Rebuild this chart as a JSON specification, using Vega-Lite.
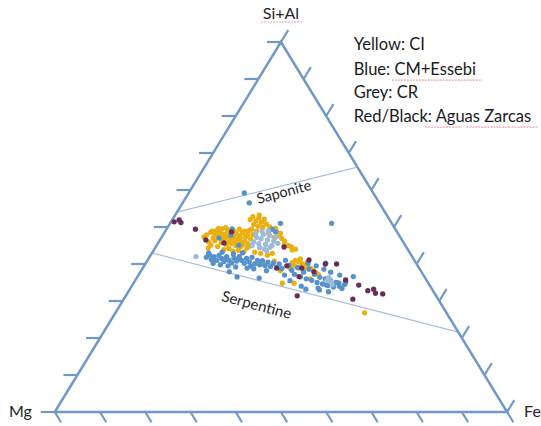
{
  "$schema": "https://vega.github.io/schema/vega-lite/v6.json",
  "width": 541,
  "height": 426,
  "autosize": {"type": "fit", "contains": "padding"},
  "padding": 0,
  "background": "white",
  "view": {"stroke": null},
  "config": {"font": "Lato"},
  "datasets": {
    "frame": [
      {"x": 0, "y": 0, "o": 1},
      {"x": 100, "y": 0, "o": 2},
      {"x": 50, "y": 100, "o": 3},
      {"x": 0, "y": 0, "o": 4}
    ],
    "ticks": [
      {"x": 0, "y": 0, "x2": -3.1, "y2": 0},
      {"x": 5, "y": 10, "x2": 1.9, "y2": 10},
      {"x": 10, "y": 20, "x2": 6.9, "y2": 20},
      {"x": 15, "y": 30, "x2": 11.9, "y2": 30},
      {"x": 20, "y": 40, "x2": 16.9, "y2": 40},
      {"x": 25, "y": 50, "x2": 21.9, "y2": 50},
      {"x": 30, "y": 60, "x2": 26.9, "y2": 60},
      {"x": 35, "y": 70, "x2": 31.9, "y2": 70},
      {"x": 40, "y": 80, "x2": 36.9, "y2": 80},
      {"x": 45, "y": 90, "x2": 41.9, "y2": 90},
      {"x": 50, "y": 100, "x2": 46.9, "y2": 100},
      {"x": 0, "y": 0, "x2": 1.38, "y2": -2.76},
      {"x": 10, "y": 0, "x2": 11.38, "y2": -2.76},
      {"x": 20, "y": 0, "x2": 21.38, "y2": -2.76},
      {"x": 30, "y": 0, "x2": 31.38, "y2": -2.76},
      {"x": 40, "y": 0, "x2": 41.38, "y2": -2.76},
      {"x": 50, "y": 0, "x2": 51.38, "y2": -2.76},
      {"x": 60, "y": 0, "x2": 61.38, "y2": -2.76},
      {"x": 70, "y": 0, "x2": 71.38, "y2": -2.76},
      {"x": 80, "y": 0, "x2": 81.38, "y2": -2.76},
      {"x": 90, "y": 0, "x2": 91.38, "y2": -2.76},
      {"x": 100, "y": 0, "x2": 101.38, "y2": -2.76},
      {"x": 100, "y": 0, "x2": 101.61, "y2": 3.22},
      {"x": 95, "y": 10, "x2": 96.61, "y2": 13.22},
      {"x": 90, "y": 20, "x2": 91.61, "y2": 23.22},
      {"x": 85, "y": 30, "x2": 86.61, "y2": 33.22},
      {"x": 80, "y": 40, "x2": 81.61, "y2": 43.22},
      {"x": 75, "y": 50, "x2": 76.61, "y2": 53.22},
      {"x": 70, "y": 60, "x2": 71.61, "y2": 63.22},
      {"x": 65, "y": 70, "x2": 66.61, "y2": 73.22},
      {"x": 60, "y": 80, "x2": 61.61, "y2": 83.22},
      {"x": 55, "y": 90, "x2": 56.61, "y2": 93.22},
      {"x": 50, "y": 100, "x2": 51.61, "y2": 103.22}
    ],
    "minerals": [
      {"name": "Saponite", "x": 27.0, "y": 54.0, "x2": 66.9, "y2": 66.2},
      {"name": "Serpentine", "x": 21.5, "y": 43.0, "x2": 89.2, "y2": 21.6}
    ],
    "squiggles": [
      {"word": "Si+Al", "x": 45.6, "y": 105.4, "x2": 54.6},
      {"word": "CM+Essebi", "x": 74.5, "y": 89.7, "x2": 94.5},
      {"word": "Aguas", "x": 81.9, "y": 77.0, "x2": 89.9},
      {"word": "Zarcas", "x": 91.0, "y": 77.0, "x2": 106.8}
    ],
    "points": [
      {"x": 33.0, "y": 47.3, "g": "CI"}, {"x": 33.6, "y": 47.9, "g": "CI"}, {"x": 34.5, "y": 48.6, "g": "CI"}, {"x": 35.3, "y": 48.2, "g": "CI"},
      {"x": 35.8, "y": 49.1, "g": "CI"}, {"x": 36.5, "y": 48.7, "g": "CI"}, {"x": 37.0, "y": 49.5, "g": "CI"}, {"x": 37.6, "y": 48.0, "g": "CI"},
      {"x": 38.2, "y": 49.2, "g": "CI"}, {"x": 38.8, "y": 48.5, "g": "CI"}, {"x": 39.5, "y": 49.0, "g": "CI"}, {"x": 40.1, "y": 48.2, "g": "CI"},
      {"x": 40.8, "y": 47.6, "g": "CI"}, {"x": 41.5, "y": 48.4, "g": "CI"}, {"x": 42.2, "y": 47.3, "g": "CI"}, {"x": 36.2, "y": 47.5, "g": "CI"},
      {"x": 37.1, "y": 46.8, "g": "CI"}, {"x": 38.0, "y": 47.2, "g": "CI"}, {"x": 38.9, "y": 46.5, "g": "CI"}, {"x": 39.6, "y": 47.4, "g": "CI"},
      {"x": 40.4, "y": 46.6, "g": "CI"}, {"x": 41.2, "y": 45.9, "g": "CI"}, {"x": 42.0, "y": 46.2, "g": "CI"}, {"x": 42.7, "y": 45.5, "g": "CI"},
      {"x": 36.8, "y": 45.8, "g": "CI"}, {"x": 37.9, "y": 45.3, "g": "CI"}, {"x": 39.0, "y": 45.6, "g": "CI"}, {"x": 40.0, "y": 45.0, "g": "CI"},
      {"x": 41.0, "y": 44.6, "g": "CI"}, {"x": 42.5, "y": 44.3, "g": "CI"}, {"x": 35.4, "y": 46.3, "g": "CI"}, {"x": 34.5, "y": 45.1, "g": "CI"},
      {"x": 38.5, "y": 44.2, "g": "CI"}, {"x": 40.6, "y": 43.7, "g": "CI"}, {"x": 43.3, "y": 46.8, "g": "CI"}, {"x": 43.8, "y": 48.0, "g": "CI"},
      {"x": 34.0, "y": 46.0, "g": "CI"}, {"x": 36.0, "y": 44.7, "g": "CI"}, {"x": 37.4, "y": 43.9, "g": "CI"}, {"x": 39.4, "y": 43.5, "g": "CI"},
      {"x": 41.8, "y": 43.3, "g": "CI"}, {"x": 42.9, "y": 49.0, "g": "CI"}, {"x": 33.9, "y": 44.3, "g": "CI"},
      {"x": 34.8, "y": 48.9, "g": "CI"}, {"x": 35.9, "y": 47.9, "g": "CI"}, {"x": 36.9, "y": 48.1, "g": "CI"}, {"x": 38.4, "y": 48.6, "g": "CI"},
      {"x": 39.8, "y": 48.6, "g": "CI"}, {"x": 41.0, "y": 47.1, "g": "CI"}, {"x": 41.9, "y": 48.9, "g": "CI"}, {"x": 37.5, "y": 46.1, "g": "CI"},
      {"x": 38.6, "y": 46.0, "g": "CI"}, {"x": 39.9, "y": 46.1, "g": "CI"}, {"x": 41.6, "y": 45.2, "g": "CI"}, {"x": 43.0, "y": 44.8, "g": "CI"},
      {"x": 35.0, "y": 47.0, "g": "CI"}, {"x": 36.2, "y": 49.6, "g": "CI"}, {"x": 37.8, "y": 49.8, "g": "CI"}, {"x": 40.8, "y": 49.4, "g": "CI"},
      {"x": 42.6, "y": 47.8, "g": "CI"},
      {"x": 43.2, "y": 52.0, "g": "CI"}, {"x": 43.8, "y": 52.8, "g": "CI"}, {"x": 44.5, "y": 51.6, "g": "CI"}, {"x": 45.1, "y": 52.4, "g": "CI"},
      {"x": 45.7, "y": 51.3, "g": "CI"}, {"x": 46.3, "y": 52.1, "g": "CI"}, {"x": 44.0, "y": 50.7, "g": "CI"}, {"x": 45.0, "y": 50.2, "g": "CI"},
      {"x": 46.0, "y": 49.9, "g": "CI"}, {"x": 46.8, "y": 50.8, "g": "CI"}, {"x": 47.5, "y": 50.0, "g": "CI"}, {"x": 48.2, "y": 49.3, "g": "CI"},
      {"x": 49.0, "y": 48.8, "g": "CI"}, {"x": 49.6, "y": 47.7, "g": "CI"}, {"x": 50.2, "y": 46.9, "g": "CI"}, {"x": 50.8, "y": 46.2, "g": "CI"},
      {"x": 48.5, "y": 47.2, "g": "CI"}, {"x": 47.3, "y": 48.2, "g": "CI"}, {"x": 43.5, "y": 49.4, "g": "CI"}, {"x": 44.6, "y": 48.9, "g": "CI"},
      {"x": 48.8, "y": 49.6, "g": "CI"}, {"x": 49.9, "y": 48.3, "g": "CI"}, {"x": 50.7, "y": 45.0, "g": "CI"}, {"x": 53.2, "y": 44.0, "g": "CI"},
      {"x": 48.1, "y": 42.9, "g": "CI"}, {"x": 47.0, "y": 42.4, "g": "CI"}, {"x": 51.6, "y": 45.0, "g": "CI"}, {"x": 52.3, "y": 44.6, "g": "CI"},
      {"x": 45.2, "y": 53.2, "g": "CI"}, {"x": 45.5, "y": 42.9, "g": "CI"},
      {"x": 52.5, "y": 40.4, "g": "CI"}, {"x": 53.2, "y": 41.0, "g": "CI"}, {"x": 53.9, "y": 40.6, "g": "CI"}, {"x": 54.6, "y": 40.1, "g": "CI"},
      {"x": 55.3, "y": 39.7, "g": "CI"}, {"x": 56.0, "y": 39.3, "g": "CI"}, {"x": 56.6, "y": 38.8, "g": "CI"}, {"x": 57.2, "y": 38.2, "g": "CI"},
      {"x": 57.8, "y": 37.6, "g": "CI"}, {"x": 53.0, "y": 39.5, "g": "CI"}, {"x": 54.0, "y": 39.0, "g": "CI"}, {"x": 55.0, "y": 38.5, "g": "CI"},
      {"x": 52.0, "y": 38.9, "g": "CI"}, {"x": 58.3, "y": 37.1, "g": "CI"}, {"x": 55.8, "y": 40.4, "g": "CI"}, {"x": 54.3, "y": 41.4, "g": "CI"},
      {"x": 50.3, "y": 34.8, "g": "CI"}, {"x": 52.9, "y": 34.8, "g": "CI"}, {"x": 49.9, "y": 38.2, "g": "CI"}, {"x": 52.5, "y": 43.8, "g": "CI"},
      {"x": 68.5, "y": 26.8, "g": "CI"}, {"x": 46.0, "y": 40.0, "g": "CI"}, {"x": 44.2, "y": 43.2, "g": "CI"}, {"x": 48.5, "y": 40.8, "g": "CI"},
      {"x": 56.5, "y": 36.0, "g": "CI"},
      {"x": 33.5, "y": 41.8, "g": "CM+Essebi"}, {"x": 34.2, "y": 42.5, "g": "CM+Essebi"}, {"x": 34.6, "y": 41.2, "g": "CM+Essebi"}, {"x": 35.2, "y": 42.0, "g": "CM+Essebi"},
      {"x": 35.8, "y": 41.0, "g": "CM+Essebi"}, {"x": 36.3, "y": 42.3, "g": "CM+Essebi"}, {"x": 36.9, "y": 41.5, "g": "CM+Essebi"}, {"x": 37.4, "y": 40.7, "g": "CM+Essebi"},
      {"x": 38.0, "y": 42.0, "g": "CM+Essebi"}, {"x": 38.5, "y": 41.0, "g": "CM+Essebi"}, {"x": 39.1, "y": 40.3, "g": "CM+Essebi"}, {"x": 39.6, "y": 41.6, "g": "CM+Essebi"},
      {"x": 40.2, "y": 40.8, "g": "CM+Essebi"}, {"x": 40.8, "y": 42.0, "g": "CM+Essebi"}, {"x": 41.3, "y": 41.0, "g": "CM+Essebi"}, {"x": 41.9, "y": 40.2, "g": "CM+Essebi"},
      {"x": 42.4, "y": 41.5, "g": "CM+Essebi"}, {"x": 43.0, "y": 40.6, "g": "CM+Essebi"}, {"x": 43.6, "y": 41.8, "g": "CM+Essebi"}, {"x": 44.2, "y": 40.0, "g": "CM+Essebi"},
      {"x": 44.8, "y": 41.0, "g": "CM+Essebi"}, {"x": 45.3, "y": 39.8, "g": "CM+Essebi"}, {"x": 45.9, "y": 40.9, "g": "CM+Essebi"}, {"x": 46.5, "y": 39.6, "g": "CM+Essebi"},
      {"x": 47.1, "y": 40.5, "g": "CM+Essebi"}, {"x": 47.7, "y": 39.3, "g": "CM+Essebi"}, {"x": 48.3, "y": 40.2, "g": "CM+Essebi"}, {"x": 49.0, "y": 39.0, "g": "CM+Essebi"},
      {"x": 49.6, "y": 40.0, "g": "CM+Essebi"}, {"x": 50.2, "y": 38.8, "g": "CM+Essebi"}, {"x": 35.0, "y": 40.2, "g": "CM+Essebi"}, {"x": 36.6, "y": 39.8, "g": "CM+Essebi"},
      {"x": 38.3, "y": 39.5, "g": "CM+Essebi"}, {"x": 40.0, "y": 39.2, "g": "CM+Essebi"}, {"x": 42.5, "y": 38.9, "g": "CM+Essebi"}, {"x": 44.0, "y": 38.7, "g": "CM+Essebi"},
      {"x": 34.0, "y": 43.0, "g": "CM+Essebi"}, {"x": 37.0, "y": 43.2, "g": "CM+Essebi"}, {"x": 39.5, "y": 42.7, "g": "CM+Essebi"}, {"x": 41.5, "y": 43.0, "g": "CM+Essebi"},
      {"x": 34.9, "y": 41.6, "g": "CM+Essebi"}, {"x": 37.7, "y": 41.3, "g": "CM+Essebi"}, {"x": 40.5, "y": 41.4, "g": "CM+Essebi"}, {"x": 43.3, "y": 39.4, "g": "CM+Essebi"},
      {"x": 51.0, "y": 41.0, "g": "CM+Essebi"}, {"x": 51.8, "y": 39.6, "g": "CM+Essebi"}, {"x": 52.4, "y": 38.3, "g": "CM+Essebi"}, {"x": 53.0, "y": 37.2, "g": "CM+Essebi"},
      {"x": 53.7, "y": 39.0, "g": "CM+Essebi"}, {"x": 54.3, "y": 36.5, "g": "CM+Essebi"}, {"x": 55.0, "y": 37.8, "g": "CM+Essebi"}, {"x": 55.6, "y": 36.0, "g": "CM+Essebi"},
      {"x": 56.2, "y": 38.6, "g": "CM+Essebi"}, {"x": 56.8, "y": 35.6, "g": "CM+Essebi"}, {"x": 57.4, "y": 37.2, "g": "CM+Essebi"}, {"x": 58.0, "y": 35.0, "g": "CM+Essebi"},
      {"x": 58.6, "y": 36.4, "g": "CM+Essebi"}, {"x": 59.2, "y": 34.6, "g": "CM+Essebi"}, {"x": 59.8, "y": 36.0, "g": "CM+Essebi"}, {"x": 60.4, "y": 34.2, "g": "CM+Essebi"},
      {"x": 61.0, "y": 35.5, "g": "CM+Essebi"}, {"x": 61.6, "y": 33.8, "g": "CM+Essebi"}, {"x": 62.2, "y": 35.0, "g": "CM+Essebi"}, {"x": 62.9, "y": 34.0, "g": "CM+Essebi"},
      {"x": 63.5, "y": 33.4, "g": "CM+Essebi"}, {"x": 64.1, "y": 34.5, "g": "CM+Essebi"}, {"x": 56.0, "y": 40.2, "g": "CM+Essebi"}, {"x": 57.8, "y": 39.5, "g": "CM+Essebi"},
      {"x": 59.5, "y": 38.6, "g": "CM+Essebi"}, {"x": 61.0, "y": 37.8, "g": "CM+Essebi"}, {"x": 63.0, "y": 37.0, "g": "CM+Essebi"}, {"x": 58.5, "y": 33.0, "g": "CM+Essebi"},
      {"x": 60.5, "y": 32.5, "g": "CM+Essebi"}, {"x": 54.5, "y": 34.0, "g": "CM+Essebi"}, {"x": 52.0, "y": 35.5, "g": "CM+Essebi"},
      {"x": 41.9, "y": 59.2, "g": "CM+Essebi"}, {"x": 43.0, "y": 56.5, "g": "CM+Essebi"}, {"x": 61.2, "y": 51.0, "g": "CM+Essebi"}, {"x": 38.6, "y": 37.9, "g": "CM+Essebi"},
      {"x": 40.3, "y": 36.5, "g": "CM+Essebi"}, {"x": 45.2, "y": 36.2, "g": "CM+Essebi"}, {"x": 58.2, "y": 33.5, "g": "CM+Essebi"}, {"x": 60.1, "y": 34.3, "g": "CM+Essebi"},
      {"x": 62.8, "y": 34.9, "g": "CM+Essebi"}, {"x": 64.3, "y": 35.1, "g": "CM+Essebi"}, {"x": 59.9, "y": 40.2, "g": "CM+Essebi"}, {"x": 39.2, "y": 49.5, "g": "CM+Essebi"},
      {"x": 38.9, "y": 47.8, "g": "CM+Essebi"}, {"x": 40.7, "y": 45.1, "g": "CM+Essebi"}, {"x": 36.3, "y": 47.0, "g": "CM+Essebi"}, {"x": 48.8, "y": 48.7, "g": "CM+Essebi"},
      {"x": 49.9, "y": 51.0, "g": "CM+Essebi"}, {"x": 48.1, "y": 49.4, "g": "CM+Essebi"}, {"x": 46.8, "y": 38.2, "g": "CM+Essebi"}, {"x": 50.8, "y": 37.0, "g": "CM+Essebi"},
      {"x": 55.5, "y": 33.2, "g": "CM+Essebi"}, {"x": 66.0, "y": 36.6, "g": "CM+Essebi"},
      {"x": 44.0, "y": 46.0, "g": "CR"}, {"x": 44.6, "y": 47.2, "g": "CR"}, {"x": 45.1, "y": 45.5, "g": "CR"}, {"x": 45.6, "y": 46.8, "g": "CR"},
      {"x": 46.1, "y": 48.0, "g": "CR"}, {"x": 46.6, "y": 45.3, "g": "CR"}, {"x": 47.0, "y": 46.5, "g": "CR"}, {"x": 47.5, "y": 47.7, "g": "CR"},
      {"x": 48.0, "y": 45.0, "g": "CR"}, {"x": 48.4, "y": 46.2, "g": "CR"}, {"x": 48.9, "y": 47.3, "g": "CR"}, {"x": 45.3, "y": 44.4, "g": "CR"},
      {"x": 46.4, "y": 44.0, "g": "CR"}, {"x": 47.6, "y": 44.5, "g": "CR"}, {"x": 44.4, "y": 48.3, "g": "CR"}, {"x": 45.8, "y": 48.9, "g": "CR"},
      {"x": 47.2, "y": 49.0, "g": "CR"}, {"x": 43.6, "y": 45.0, "g": "CR"}, {"x": 49.3, "y": 45.6, "g": "CR"}, {"x": 46.9, "y": 43.6, "g": "CR"},
      {"x": 60.6, "y": 36.3, "g": "CR"}, {"x": 61.0, "y": 35.2, "g": "CR"}, {"x": 61.3, "y": 34.4, "g": "CR"}, {"x": 60.2, "y": 35.5, "g": "CR"},
      {"x": 31.2, "y": 42.0, "g": "CR"},
      {"x": 26.4, "y": 51.4, "g": "Aguas Zarcas"}, {"x": 27.5, "y": 51.9, "g": "Aguas Zarcas"}, {"x": 27.9, "y": 51.2, "g": "Aguas Zarcas"}, {"x": 31.1, "y": 49.4, "g": "Aguas Zarcas"},
      {"x": 33.4, "y": 46.5, "g": "Aguas Zarcas"}, {"x": 37.4, "y": 45.7, "g": "Aguas Zarcas"}, {"x": 39.1, "y": 48.7, "g": "Aguas Zarcas"}, {"x": 50.7, "y": 44.6, "g": "Aguas Zarcas"},
      {"x": 51.3, "y": 39.5, "g": "Aguas Zarcas"}, {"x": 54.6, "y": 38.9, "g": "Aguas Zarcas"}, {"x": 54.0, "y": 36.6, "g": "Aguas Zarcas"}, {"x": 62.3, "y": 40.0, "g": "Aguas Zarcas"},
      {"x": 64.3, "y": 35.7, "g": "Aguas Zarcas"}, {"x": 67.2, "y": 34.3, "g": "Aguas Zarcas"}, {"x": 69.2, "y": 32.8, "g": "Aguas Zarcas"}, {"x": 70.5, "y": 33.2, "g": "Aguas Zarcas"},
      {"x": 70.9, "y": 32.1, "g": "Aguas Zarcas"}, {"x": 72.5, "y": 31.9, "g": "Aguas Zarcas"}, {"x": 65.9, "y": 30.5, "g": "Aguas Zarcas"}, {"x": 53.6, "y": 31.4, "g": "Aguas Zarcas"},
      {"x": 49.1, "y": 38.9, "g": "Aguas Zarcas"}, {"x": 59.8, "y": 40.0, "g": "Aguas Zarcas"}, {"x": 57.3, "y": 37.9, "g": "Aguas Zarcas"}, {"x": 56.2, "y": 41.1, "g": "Aguas Zarcas"}
    ],
    "corners": [
      {"label": "Mg", "x": -7.6, "y": 0},
      {"label": "Fe", "x": 105.6, "y": 0},
      {"label": "Si+Al", "x": 50.0, "y": 107.6}
    ],
    "key": [
      {"label": "Yellow: CI", "x": 66.1, "y": 99.2},
      {"label": "Blue: CM+Essebi", "x": 66.1, "y": 92.4},
      {"label": "Grey: CR", "x": 66.1, "y": 86.2},
      {"label": "Red/Black: Aguas Zarcas", "x": 66.1, "y": 79.7}
    ]
  },
  "layer": [
    {
      "data": {"name": "minerals"},
      "mark": {"type": "rule", "color": "#a9bfe2", "strokeWidth": 1.2},
      "encoding": {
        "x": {"field": "x", "type": "quantitative", "scale": {"domain": [-12.11, 107.05], "nice": false, "zero": false}, "axis": null},
        "y": {"field": "y", "type": "quantitative", "scale": {"domain": [-3.78, 111.35], "nice": false, "zero": false}, "axis": null},
        "x2": {"field": "x2"},
        "y2": {"field": "y2"}
      }
    },
    {
      "data": {"name": "squiggles"},
      "mark": {"type": "rule", "color": "#f2a0a8", "strokeWidth": 1.2, "strokeDash": [2, 1]},
      "encoding": {
        "x": {"field": "x", "type": "quantitative", "scale": {"domain": [-12.11, 107.05], "nice": false, "zero": false}, "axis": null},
        "y": {"field": "y", "type": "quantitative", "scale": {"domain": [-3.78, 111.35], "nice": false, "zero": false}, "axis": null},
        "x2": {"field": "x2"}
      }
    },
    {
      "data": {"name": "frame"},
      "mark": {"type": "line", "color": "#7199c8", "strokeWidth": 2.5},
      "encoding": {
        "x": {"field": "x", "type": "quantitative", "scale": {"domain": [-12.11, 107.05], "nice": false, "zero": false}, "axis": null},
        "y": {"field": "y", "type": "quantitative", "scale": {"domain": [-3.78, 111.35], "nice": false, "zero": false}, "axis": null},
        "order": {"field": "o", "type": "quantitative"}
      }
    },
    {
      "data": {"name": "ticks"},
      "mark": {"type": "rule", "color": "#7199c8", "strokeWidth": 2.2},
      "encoding": {
        "x": {"field": "x", "type": "quantitative", "scale": {"domain": [-12.11, 107.05], "nice": false, "zero": false}, "axis": null},
        "y": {"field": "y", "type": "quantitative", "scale": {"domain": [-3.78, 111.35], "nice": false, "zero": false}, "axis": null},
        "x2": {"field": "x2"},
        "y2": {"field": "y2"}
      }
    },
    {
      "data": {"name": "points"},
      "mark": {"type": "circle", "size": 28, "opacity": 1},
      "encoding": {
        "x": {"field": "x", "type": "quantitative", "scale": {"domain": [-12.11, 107.05], "nice": false, "zero": false}, "axis": null},
        "y": {"field": "y", "type": "quantitative", "scale": {"domain": [-3.78, 111.35], "nice": false, "zero": false}, "axis": null},
        "color": {
          "field": "g", "type": "nominal",
          "scale": {"domain": ["CI", "CM+Essebi", "CR", "Aguas Zarcas"], "range": ["#eab012", "#5592cc", "#9cbad9", "#6a2c5a"]},
          "legend": null
        }
      }
    },
    {
      "data": {"name": "minerals"},
      "transform": [{"filter": "datum.name === 'Saponite'"}],
      "mark": {"type": "text", "fontSize": 14.5, "color": "#262626", "angle": 345, "align": "center", "baseline": "middle"},
      "encoding": {
        "x": {"datum": 50.7, "type": "quantitative", "scale": {"domain": [-12.11, 107.05], "nice": false, "zero": false}, "axis": null},
        "y": {"datum": 59.2, "type": "quantitative", "scale": {"domain": [-3.78, 111.35], "nice": false, "zero": false}, "axis": null},
        "text": {"field": "name"}
      }
    },
    {
      "data": {"name": "minerals"},
      "transform": [{"filter": "datum.name === 'Serpentine'"}],
      "mark": {"type": "text", "fontSize": 15, "color": "#262626", "angle": 15, "align": "center", "baseline": "middle"},
      "encoding": {
        "x": {"datum": 44.6, "type": "quantitative", "scale": {"domain": [-12.11, 107.05], "nice": false, "zero": false}, "axis": null},
        "y": {"datum": 28.9, "type": "quantitative", "scale": {"domain": [-3.78, 111.35], "nice": false, "zero": false}, "axis": null},
        "text": {"field": "name"}
      }
    },
    {
      "data": {"name": "corners"},
      "mark": {"type": "text", "fontSize": 16, "color": "#262626", "align": "center", "baseline": "middle"},
      "encoding": {
        "x": {"field": "x", "type": "quantitative", "scale": {"domain": [-12.11, 107.05], "nice": false, "zero": false}, "axis": null},
        "y": {"field": "y", "type": "quantitative", "scale": {"domain": [-3.78, 111.35], "nice": false, "zero": false}, "axis": null},
        "text": {"field": "label"}
      }
    },
    {
      "data": {"name": "key"},
      "mark": {"type": "text", "fontSize": 16.5, "color": "#1a1a1a", "align": "left", "baseline": "middle"},
      "encoding": {
        "x": {"field": "x", "type": "quantitative", "scale": {"domain": [-12.11, 107.05], "nice": false, "zero": false}, "axis": null},
        "y": {"field": "y", "type": "quantitative", "scale": {"domain": [-3.78, 111.35], "nice": false, "zero": false}, "axis": null},
        "text": {"field": "label"}
      }
    }
  ]
}
